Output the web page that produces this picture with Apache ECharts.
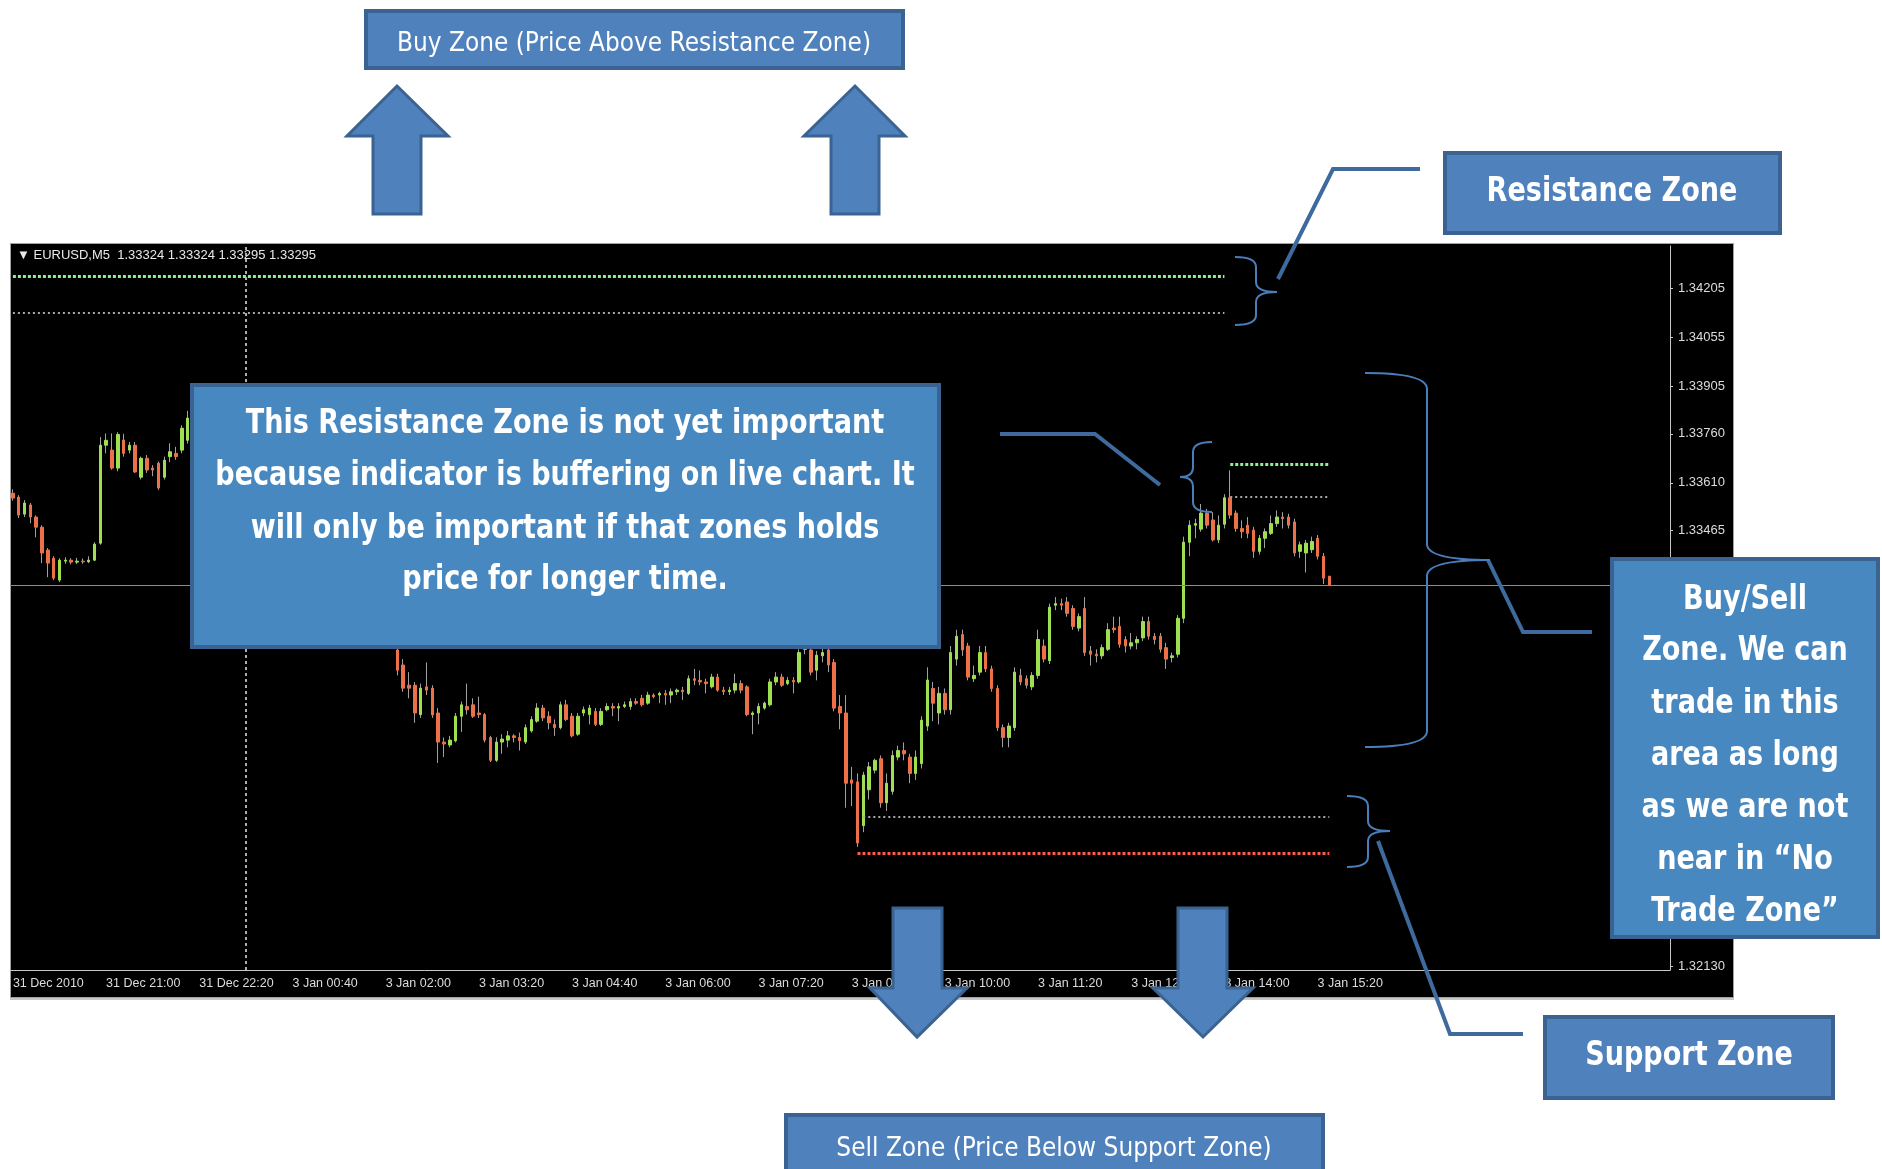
<!DOCTYPE html>
<html>
<head>
<meta charset="utf-8">
<script src="https://cdn.jsdelivr.net/npm/echarts@6/dist/echarts.min.js"></script>
<style>
  body { margin: 0; background: #fff; }
  #panel { position: absolute; left: 10px; top: 243px; width: 1722px; height: 753px; background: #000; border: 1px solid #a0a0a0; }
  #scroll { position: absolute; left: 10px; top: 998px; width: 1724px; height: 2px; background: #c8c8c8; }
  #main { position: absolute; left: 0; top: 0; width: 1882px; height: 1169px; }
</style>
</head>
<body>
<div id="panel"></div>
<div id="scroll"></div>
<div id="main"></div>
<script>
// EURUSD M5 bars, 31 Dec 2010 19:40 .. 3 Jan 15:30, each [open, close, low, high]
var candles = [
  [1.33578,1.33563,1.33555,1.33590],[1.33566,1.33511,1.33502,1.33572],[1.33514,1.33548,1.33505,1.33557],
  [1.33542,1.33505,1.33486,1.33548],[1.33505,1.33474,1.33443,1.33510],[1.33474,1.33395,1.33364,1.33480],
  [1.33404,1.33364,1.33321,1.33410],[1.33379,1.33318,1.33312,1.33385],[1.33312,1.33373,1.33306,1.33379],
  [1.33370,1.33373,1.33362,1.33382],[1.33373,1.33367,1.33360,1.33379],[1.33367,1.33370,1.33361,1.33380],
  [1.33370,1.33368,1.33362,1.33378],[1.33368,1.33373,1.33364,1.33385],[1.33373,1.33422,1.33370,1.33428],
  [1.33425,1.33725,1.33420,1.33750],[1.33725,1.33740,1.33700,1.33761],[1.33710,1.33655,1.33650,1.33761],
  [1.33655,1.33758,1.33645,1.33765],[1.33741,1.33700,1.33690,1.33760],[1.33710,1.33725,1.33700,1.33735],
  [1.33725,1.33643,1.33640,1.33735],[1.33627,1.33685,1.33620,1.33690],[1.33685,1.33649,1.33640,1.33695],
  [1.33655,1.33649,1.33630,1.33664],[1.33670,1.33594,1.33588,1.33675],[1.33627,1.33679,1.33620,1.33690],
  [1.33690,1.33705,1.33673,1.33731],[1.33700,1.33690,1.33680,1.33720],[1.33710,1.33777,1.33700,1.33786],
  [1.33740,1.33808,1.33730,1.33830],[1.33808,1.33840,1.33790,1.33860],[1.33840,1.33815,1.33800,1.33870],
  [1.33815,1.33850,1.33805,1.33875],[1.33850,1.33820,1.33800,1.33865],[1.33820,1.33790,1.33770,1.33835],
  [1.33790,1.33805,1.33780,1.33820],[1.33805,1.33780,1.33770,1.33815],[1.33780,1.33790,1.33775,1.33800],
  [1.33790,1.33785,1.33780,1.33795],[1.33760,1.33700,1.33690,1.33775],[1.33700,1.33640,1.33620,1.33710],
  [1.33640,1.33680,1.33630,1.33690],[1.33680,1.33620,1.33600,1.33690],[1.33620,1.33560,1.33540,1.33630],
  [1.33560,1.33590,1.33545,1.33605],[1.33590,1.33540,1.33525,1.33600],[1.33540,1.33500,1.33490,1.33555],
  [1.33500,1.33530,1.33485,1.33545],[1.33530,1.33480,1.33465,1.33540],[1.33480,1.33440,1.33430,1.33495],
  [1.33440,1.33465,1.33430,1.33480],[1.33465,1.33420,1.33405,1.33470],[1.33420,1.33380,1.33365,1.33430],
  [1.33380,1.33400,1.33370,1.33415],[1.33400,1.33350,1.33340,1.33410],[1.33350,1.33310,1.33300,1.33360],
  [1.33310,1.33330,1.33295,1.33345],[1.33330,1.33280,1.33265,1.33335],[1.33280,1.33300,1.33270,1.33315],
  [1.33300,1.33260,1.33245,1.33310],[1.33260,1.33230,1.33215,1.33270],[1.33230,1.33245,1.33220,1.33260],
  [1.33245,1.33200,1.33185,1.33250],[1.33200,1.33215,1.33180,1.33230],[1.33215,1.33160,1.33140,1.33220],
  [1.33098,1.33036,1.33020,1.33140],[1.33052,1.32981,1.32970,1.33070],[1.32990,1.32981,1.32950,1.33030],
  [1.32990,1.32905,1.32875,1.33000],[1.32900,1.32981,1.32890,1.32995],[1.32985,1.32975,1.32960,1.33060],
  [1.32981,1.32899,1.32890,1.32990],[1.32905,1.32816,1.32752,1.32920],[1.32816,1.32810,1.32770,1.32830],
  [1.32807,1.32822,1.32800,1.32835],[1.32820,1.32895,1.32815,1.32905],[1.32895,1.32930,1.32847,1.32940],
  [1.32925,1.32915,1.32900,1.32995],[1.32930,1.32895,1.32890,1.32950],[1.32905,1.32900,1.32890,1.32955],
  [1.32900,1.32822,1.32815,1.32905],[1.32830,1.32760,1.32755,1.32835],[1.32760,1.32816,1.32755,1.32830],
  [1.32816,1.32825,1.32780,1.32840],[1.32822,1.32835,1.32800,1.32850],[1.32835,1.32830,1.32815,1.32840],
  [1.32830,1.32820,1.32790,1.32845],[1.32816,1.32860,1.32810,1.32870],[1.32850,1.32885,1.32845,1.32895],
  [1.32880,1.32920,1.32875,1.32935],[1.32920,1.32890,1.32880,1.32930],[1.32895,1.32875,1.32855,1.32910],
  [1.32870,1.32860,1.32835,1.32885],[1.32860,1.32930,1.32855,1.32940],[1.32930,1.32885,1.32880,1.32945],
  [1.32895,1.32835,1.32830,1.32905],[1.32840,1.32895,1.32835,1.32905],[1.32905,1.32915,1.32895,1.32925],
  [1.32900,1.32920,1.32870,1.32930],[1.32910,1.32870,1.32865,1.32920],[1.32870,1.32910,1.32865,1.32920],
  [1.32915,1.32925,1.32910,1.32935],[1.32925,1.32920,1.32895,1.32935],[1.32920,1.32925,1.32880,1.32935],
  [1.32925,1.32930,1.32920,1.32940],[1.32925,1.32940,1.32915,1.32950],[1.32940,1.32935,1.32930,1.32950],
  [1.32950,1.32930,1.32925,1.32960],[1.32935,1.32960,1.32930,1.32970],[1.32960,1.32955,1.32950,1.32965],
  [1.32960,1.32965,1.32935,1.32970],[1.32965,1.32960,1.32930,1.32975],[1.32960,1.32970,1.32935,1.32980],
  [1.32970,1.32975,1.32960,1.32980],[1.32975,1.32970,1.32945,1.32985],[1.32965,1.33010,1.32960,1.33020],
  [1.33010,1.33005,1.32990,1.33040],[1.33005,1.33000,1.32990,1.33035],[1.33000,1.32995,1.32965,1.33010],
  [1.32985,1.33015,1.32980,1.33025],[1.33015,1.32975,1.32970,1.33025],[1.32975,1.32970,1.32960,1.32985],
  [1.32970,1.32975,1.32960,1.32985],[1.32975,1.32995,1.32965,1.33025],[1.32995,1.32975,1.32965,1.33005],
  [1.32985,1.32900,1.32895,1.32990],[1.32900,1.32905,1.32840,1.32910],[1.32905,1.32925,1.32870,1.32935],
  [1.32920,1.32935,1.32915,1.32940],[1.32930,1.33000,1.32925,1.33010],[1.33000,1.33015,1.32990,1.33030],
  [1.33015,1.32990,1.32985,1.33025],[1.32995,1.33005,1.32990,1.33015],[1.33005,1.33000,1.32965,1.33015],
  [1.33000,1.33090,1.32995,1.33100],[1.33100,1.33110,1.33085,1.33150],[1.33098,1.33030,1.33020,1.33130],
  [1.33036,1.33082,1.33005,1.33095],[1.33080,1.33090,1.33060,1.33130],[1.33098,1.33052,1.33030,1.33130],
  [1.33060,1.32920,1.32910,1.33070],[1.32925,1.32905,1.32855,1.32960],[1.32905,1.32690,1.32615,1.32960],
  [1.32700,1.32690,1.32620,1.32740],[1.32694,1.32507,1.32495,1.32720],[1.32560,1.32715,1.32540,1.32725],
  [1.32670,1.32740,1.32640,1.32755],[1.32730,1.32760,1.32720,1.32765],[1.32765,1.32630,1.32615,1.32775],
  [1.32630,1.32690,1.32605,1.32720],[1.32665,1.32775,1.32655,1.32790],[1.32770,1.32790,1.32760,1.32805],
  [1.32790,1.32780,1.32760,1.32815],[1.32770,1.32720,1.32690,1.32780],[1.32720,1.32770,1.32700,1.32790],
  [1.32750,1.32883,1.32735,1.32895],[1.32865,1.33006,1.32850,1.33045],[1.32980,1.32935,1.32880,1.33000],
  [1.32905,1.32965,1.32870,1.32985],[1.32965,1.32915,1.32900,1.32980],[1.32915,1.33090,1.32900,1.33110],
  [1.33070,1.33140,1.33050,1.33160],[1.33145,1.33098,1.33080,1.33160],[1.33110,1.33015,1.33005,1.33120],
  [1.33010,1.33020,1.33000,1.33050],[1.33030,1.33090,1.33020,1.33110],[1.33090,1.33040,1.33030,1.33110],
  [1.33040,1.32980,1.32970,1.33050],[1.32980,1.32860,1.32850,1.32990],[1.32860,1.32830,1.32800,1.32870],
  [1.32830,1.32865,1.32800,1.32875],[1.32860,1.33030,1.32850,1.33045],[1.33020,1.33000,1.32990,1.33040],
  [1.33010,1.32990,1.32980,1.33020],[1.32985,1.33020,1.32975,1.33030],[1.33020,1.33130,1.33010,1.33160],
  [1.33110,1.33070,1.33060,1.33130],[1.33065,1.33229,1.33055,1.33240],[1.33235,1.33240,1.33220,1.33260],
  [1.33240,1.33235,1.33220,1.33255],[1.33245,1.33210,1.33200,1.33260],[1.33225,1.33170,1.33160,1.33235],
  [1.33165,1.33200,1.33155,1.33210],[1.33225,1.33090,1.33080,1.33260],[1.33095,1.33085,1.33050,1.33110],
  [1.33085,1.33080,1.33060,1.33100],[1.33080,1.33105,1.33070,1.33115],[1.33100,1.33160,1.33095,1.33180],
  [1.33165,1.33160,1.33150,1.33200],[1.33170,1.33115,1.33105,1.33200],[1.33130,1.33110,1.33090,1.33140],
  [1.33110,1.33120,1.33100,1.33150],[1.33120,1.33130,1.33100,1.33140],[1.33135,1.33185,1.33125,1.33200],
  [1.33185,1.33140,1.33130,1.33200],[1.33140,1.33130,1.33115,1.33150],[1.33140,1.33100,1.33090,1.33150],
  [1.33105,1.33070,1.33040,1.33120],[1.33075,1.33080,1.33060,1.33090],[1.33085,1.33195,1.33075,1.33205],
  [1.33195,1.33428,1.33180,1.33445],[1.33428,1.33480,1.33385,1.33495],[1.33480,1.33485,1.33440,1.33500],
  [1.33468,1.33517,1.33460,1.33545],[1.33517,1.33480,1.33470,1.33530],[1.33496,1.33435,1.33430,1.33520],
  [1.33435,1.33480,1.33425,1.33510],[1.33483,1.33564,1.33470,1.33575],[1.33564,1.33511,1.33500,1.33648],
  [1.33517,1.33470,1.33460,1.33525],[1.33470,1.33460,1.33440,1.33495],[1.33480,1.33455,1.33440,1.33505],
  [1.33465,1.33400,1.33380,1.33475],[1.33400,1.33440,1.33390,1.33450],[1.33440,1.33460,1.33410,1.33470],
  [1.33455,1.33485,1.33450,1.33510],[1.33485,1.33505,1.33475,1.33525],[1.33505,1.33500,1.33470,1.33520],
  [1.33505,1.33480,1.33470,1.33515],[1.33490,1.33395,1.33385,1.33500],[1.33400,1.33420,1.33380,1.33430],
  [1.33395,1.33425,1.33335,1.33435],[1.33405,1.33430,1.33395,1.33445],[1.33440,1.33385,1.33375,1.33450],
  [1.33385,1.33318,1.33300,1.33395],[1.33324,1.33295,1.33295,1.33324]
];

// x axis: one slot per M5 bar, MT4 leaves empty space on the right
var barSlots = 285;
var labelStep = 16;
var tickLabels = ['31 Dec 2010', '31 Dec 21:00', '31 Dec 22:20', '3 Jan 00:40', '3 Jan 02:00',
  '3 Jan 03:20', '3 Jan 04:40', '3 Jan 06:00', '3 Jan 07:20', '3 Jan 08:40', '3 Jan 10:00',
  '3 Jan 11:20', '3 Jan 12:40', '3 Jan 14:00', '3 Jan 15:20'];
var priceLabels = [1.32130, 1.33465, 1.33610, 1.33760, 1.33905, 1.34055, 1.34205];
var priceMin = 1.32118;
var priceMax = 1.34335;

// zone indicator lines (bar from, bar to, price)
var zoneStart = [0, 0, 209, 209, 146, 145];
var zoneEnd   = [208, 208, 226, 226, 226, 226];
var zonePrice = [1.34243, 1.34132, 1.33667, 1.33567, 1.32588, 1.32477];
var zoneKind  = ['top', 'inner', 'top', 'inner', 'inner', 'bottom'];
var bidPrice = 1.33295;
var separatorBar = 40;

var bigNote = ['This Resistance Zone is not yet important',
  'because indicator is buffering on live chart. It',
  'will only be important if that zones holds',
  'price for longer time.'];
var sideNote = ['Buy/Sell', 'Zone. We can', 'trade in this', 'area as long',
  'as we are not', 'near in \u201cNo', 'Trade Zone\u201d'];

var categories = [];
for (var i = 0; i < barSlots; i++) categories.push(String(i));
// bodies only (no wicks), drawn over the gray wick series
var bodies = candles.map(function (c) {
  return [c[0], c[1], Math.min(c[0], c[1]), Math.max(c[0], c[1])];
});

var zoneStyle = {
  top:    { color: '#8cf08c', width: 3, type: [3, 2] },
  inner:  { color: '#a8a8a8', width: 2, type: [2, 3] },
  bottom: { color: '#ff5a4a', width: 3, type: [3, 2] }
};
var markData = [
  { yAxis: bidPrice, lineStyle: { color: '#8c8c8c', width: 1, type: 'solid' } },
  { xAxis: separatorBar, lineStyle: { color: '#e6e6e6', width: 1.5, type: [3, 3] } }
];
zonePrice.forEach(function (p, k) {
  markData.push([
    { coord: [zoneStart[k], p], lineStyle: zoneStyle[zoneKind[k]] },
    { coord: [zoneEnd[k], p] }
  ]);
});

var FONT = '"DejaVu Sans Condensed", "Open Sans", sans-serif';
var BOX = '#4f81bd', BOX2 = '#4788c0', EDGE = '#3a6391', LINK = '#3e6a9e', BRACE = '#4a7ebb';

function box(x, y, w, h, fill) {
  return { type: 'rect', z: 100, shape: { x: x, y: y, width: w, height: h },
    style: { fill: fill, stroke: EDGE, lineWidth: 4 } };
}
// text squeezed horizontally to mimic the narrow font of the original
function label(text, x, y, size, bold) {
  return { type: 'text', z: 101, x: x, y: y + 3, scaleX: bold ? 0.885 : 0.96,
    style: { text: text, x: 0, y: 0, fill: '#fff',
      font: (bold ? 'bold ' : '') + size + 'px ' + FONT, textAlign: 'center', textVerticalAlign: 'middle' } };
}
function arrow(pts) {
  return { type: 'polygon', z: 100, shape: { points: pts }, style: { fill: BOX, stroke: EDGE, lineWidth: 3 } };
}
function link(pts) {
  return { type: 'polyline', z: 100, shape: { points: pts }, style: { stroke: LINK, lineWidth: 4, fill: null } };
}
// curly brace: x0 = arm ends, xv = spine, xt = point
function brace(x0, xv, xt, y0, ym, y1, r) {
  var s = { stroke: BRACE, lineWidth: 2, fill: null };
  return [
    { type: 'bezierCurve', z: 100, shape: { x1: x0, y1: y0, x2: xv, y2: y0 + r, cpx1: xv, cpy1: y0 }, style: s },
    { type: 'line', z: 100, shape: { x1: xv, y1: y0 + r, x2: xv, y2: ym - r }, style: s },
    { type: 'bezierCurve', z: 100, shape: { x1: xv, y1: ym - r, x2: xt, y2: ym, cpx1: xv, cpy1: ym }, style: s },
    { type: 'bezierCurve', z: 100, shape: { x1: xt, y1: ym, x2: xv, y2: ym + r, cpx1: xv, cpy1: ym }, style: s },
    { type: 'line', z: 100, shape: { x1: xv, y1: ym + r, x2: xv, y2: y1 - r }, style: s },
    { type: 'bezierCurve', z: 100, shape: { x1: xv, y1: y1 - r, x2: x0, y2: y1, cpx1: xv, cpy1: y1 }, style: s }
  ];
}

var graphics = [
  { type: 'text', z: 50, style: { text: '\u25bc EURUSD,M5  1.33324 1.33324 1.33295 1.33295', x: 17, y: 255,
    fill: '#e8e8e8', font: '13px "Liberation Sans", Arial, sans-serif', textVerticalAlign: 'middle' } },
  box(366, 11, 537, 57, BOX), label('Buy Zone (Price Above Resistance Zone)', 634, 41, 27, false),
  arrow([[373, 214], [373, 136], [347, 136], [397, 86], [448, 136], [421, 136], [421, 214]]),
  arrow([[831, 214], [831, 136], [804, 136], [855, 86], [905, 136], [879, 136], [879, 214]]),
  box(1445, 153, 335, 80, BOX), label('Resistance Zone', 1612, 189, 34, true),
  link([[1420, 169], [1333, 169], [1278, 279]]),
  box(192, 385, 747, 262, BOX2),
  link([[1000, 434], [1095, 434], [1160, 485]]),
  box(1612, 559, 266, 378, BOX2),
  link([[1488, 560], [1523, 632], [1592, 632]]),
  box(1545, 1017, 288, 81, BOX), label('Support Zone', 1689, 1053, 34, true),
  link([[1378, 841], [1450, 1034], [1523, 1034]]),
  arrow([[893, 908], [942, 908], [942, 988], [967, 988], [917, 1037], [870, 988], [893, 988]]),
  arrow([[1178, 908], [1227, 908], [1227, 988], [1253, 988], [1203, 1037], [1153, 988], [1178, 988]]),
  box(786, 1115, 537, 70, BOX), label('Sell Zone (Price Below Support Zone)', 1054, 1146, 27, false)
];
var bigY = [421, 473, 526, 577];
bigNote.forEach(function (t, k) { graphics.push(label(t, 565, bigY[k], 34, true)); });
var sideY = [597, 648, 701, 753, 805, 857, 909];
sideNote.forEach(function (t, k) { graphics.push(label(t, 1745, sideY[k], 34, true)); });
graphics = graphics
  .concat(brace(1235, 1256, 1277, 257, 292, 325, 10))
  .concat(brace(1212, 1193, 1180, 442, 477, 512, 10))
  .concat(brace(1365, 1427, 1490, 373, 560, 747, 16))
  .concat(brace(1347, 1368, 1390, 796, 831, 867, 10));

var chart = echarts.init(document.getElementById('main'));
var showTick = function (index) { return index % labelStep === 0 && index / labelStep < tickLabels.length; };
chart.setOption({
  backgroundColor: 'transparent',
  animation: false,
  grid: { left: 10, right: 212, top: 246, bottom: 199, containLabel: false, outerBoundsMode: 'none' },
  xAxis: {
    type: 'category',
    data: categories,
    boundaryGap: true,
    axisLine: { onZero: false, lineStyle: { color: '#c8c8c8', width: 1 } },
    axisTick: { alignWithLabel: true, interval: showTick, length: 4, lineStyle: { color: '#c8c8c8' } },
    axisLabel: {
      interval: showTick, align: 'left', margin: 7, color: '#dcdcdc', fontSize: 12.5,
      fontFamily: '"Liberation Sans", Arial, sans-serif',
      formatter: function (v, idx) { return tickLabels[idx / labelStep] || ''; }
    },
    splitLine: { show: false }
  },
  yAxis: {
    type: 'value',
    position: 'right',
    min: priceMin,
    max: priceMax,
    scale: true,
    axisLine: { show: true, lineStyle: { color: '#c8c8c8', width: 1 } },
    axisTick: { show: true, length: 3, customValues: priceLabels, lineStyle: { color: '#c8c8c8' } },
    axisLabel: {
      customValues: priceLabels, margin: 8, color: '#dcdcdc', fontSize: 13,
      fontFamily: '"Liberation Sans", Arial, sans-serif',
      formatter: function (v) { return v.toFixed(5); }
    },
    splitLine: { show: false }
  },
  graphic: { elements: graphics },
  series: [
    {
      name: 'wicks',
      type: 'candlestick',
      data: candles,
      barWidth: 1,
      itemStyle: { color: '#a0a0a0', color0: '#a0a0a0', borderColor: '#a0a0a0', borderColor0: '#a0a0a0', borderWidth: 1 },
      markLine: { silent: true, precision: 5, symbol: ['none', 'none'], label: { show: false }, data: markData },
      z: 2
    },
    {
      name: 'bodies',
      type: 'candlestick',
      data: bodies,
      barWidth: 3,
      itemStyle: { color: '#9ee04f', color0: '#ec7048', borderColor: '#9ee04f', borderColor0: '#ec7048', borderWidth: 1 },
      z: 3
    }
  ]
});
</script>
</body>
</html>
